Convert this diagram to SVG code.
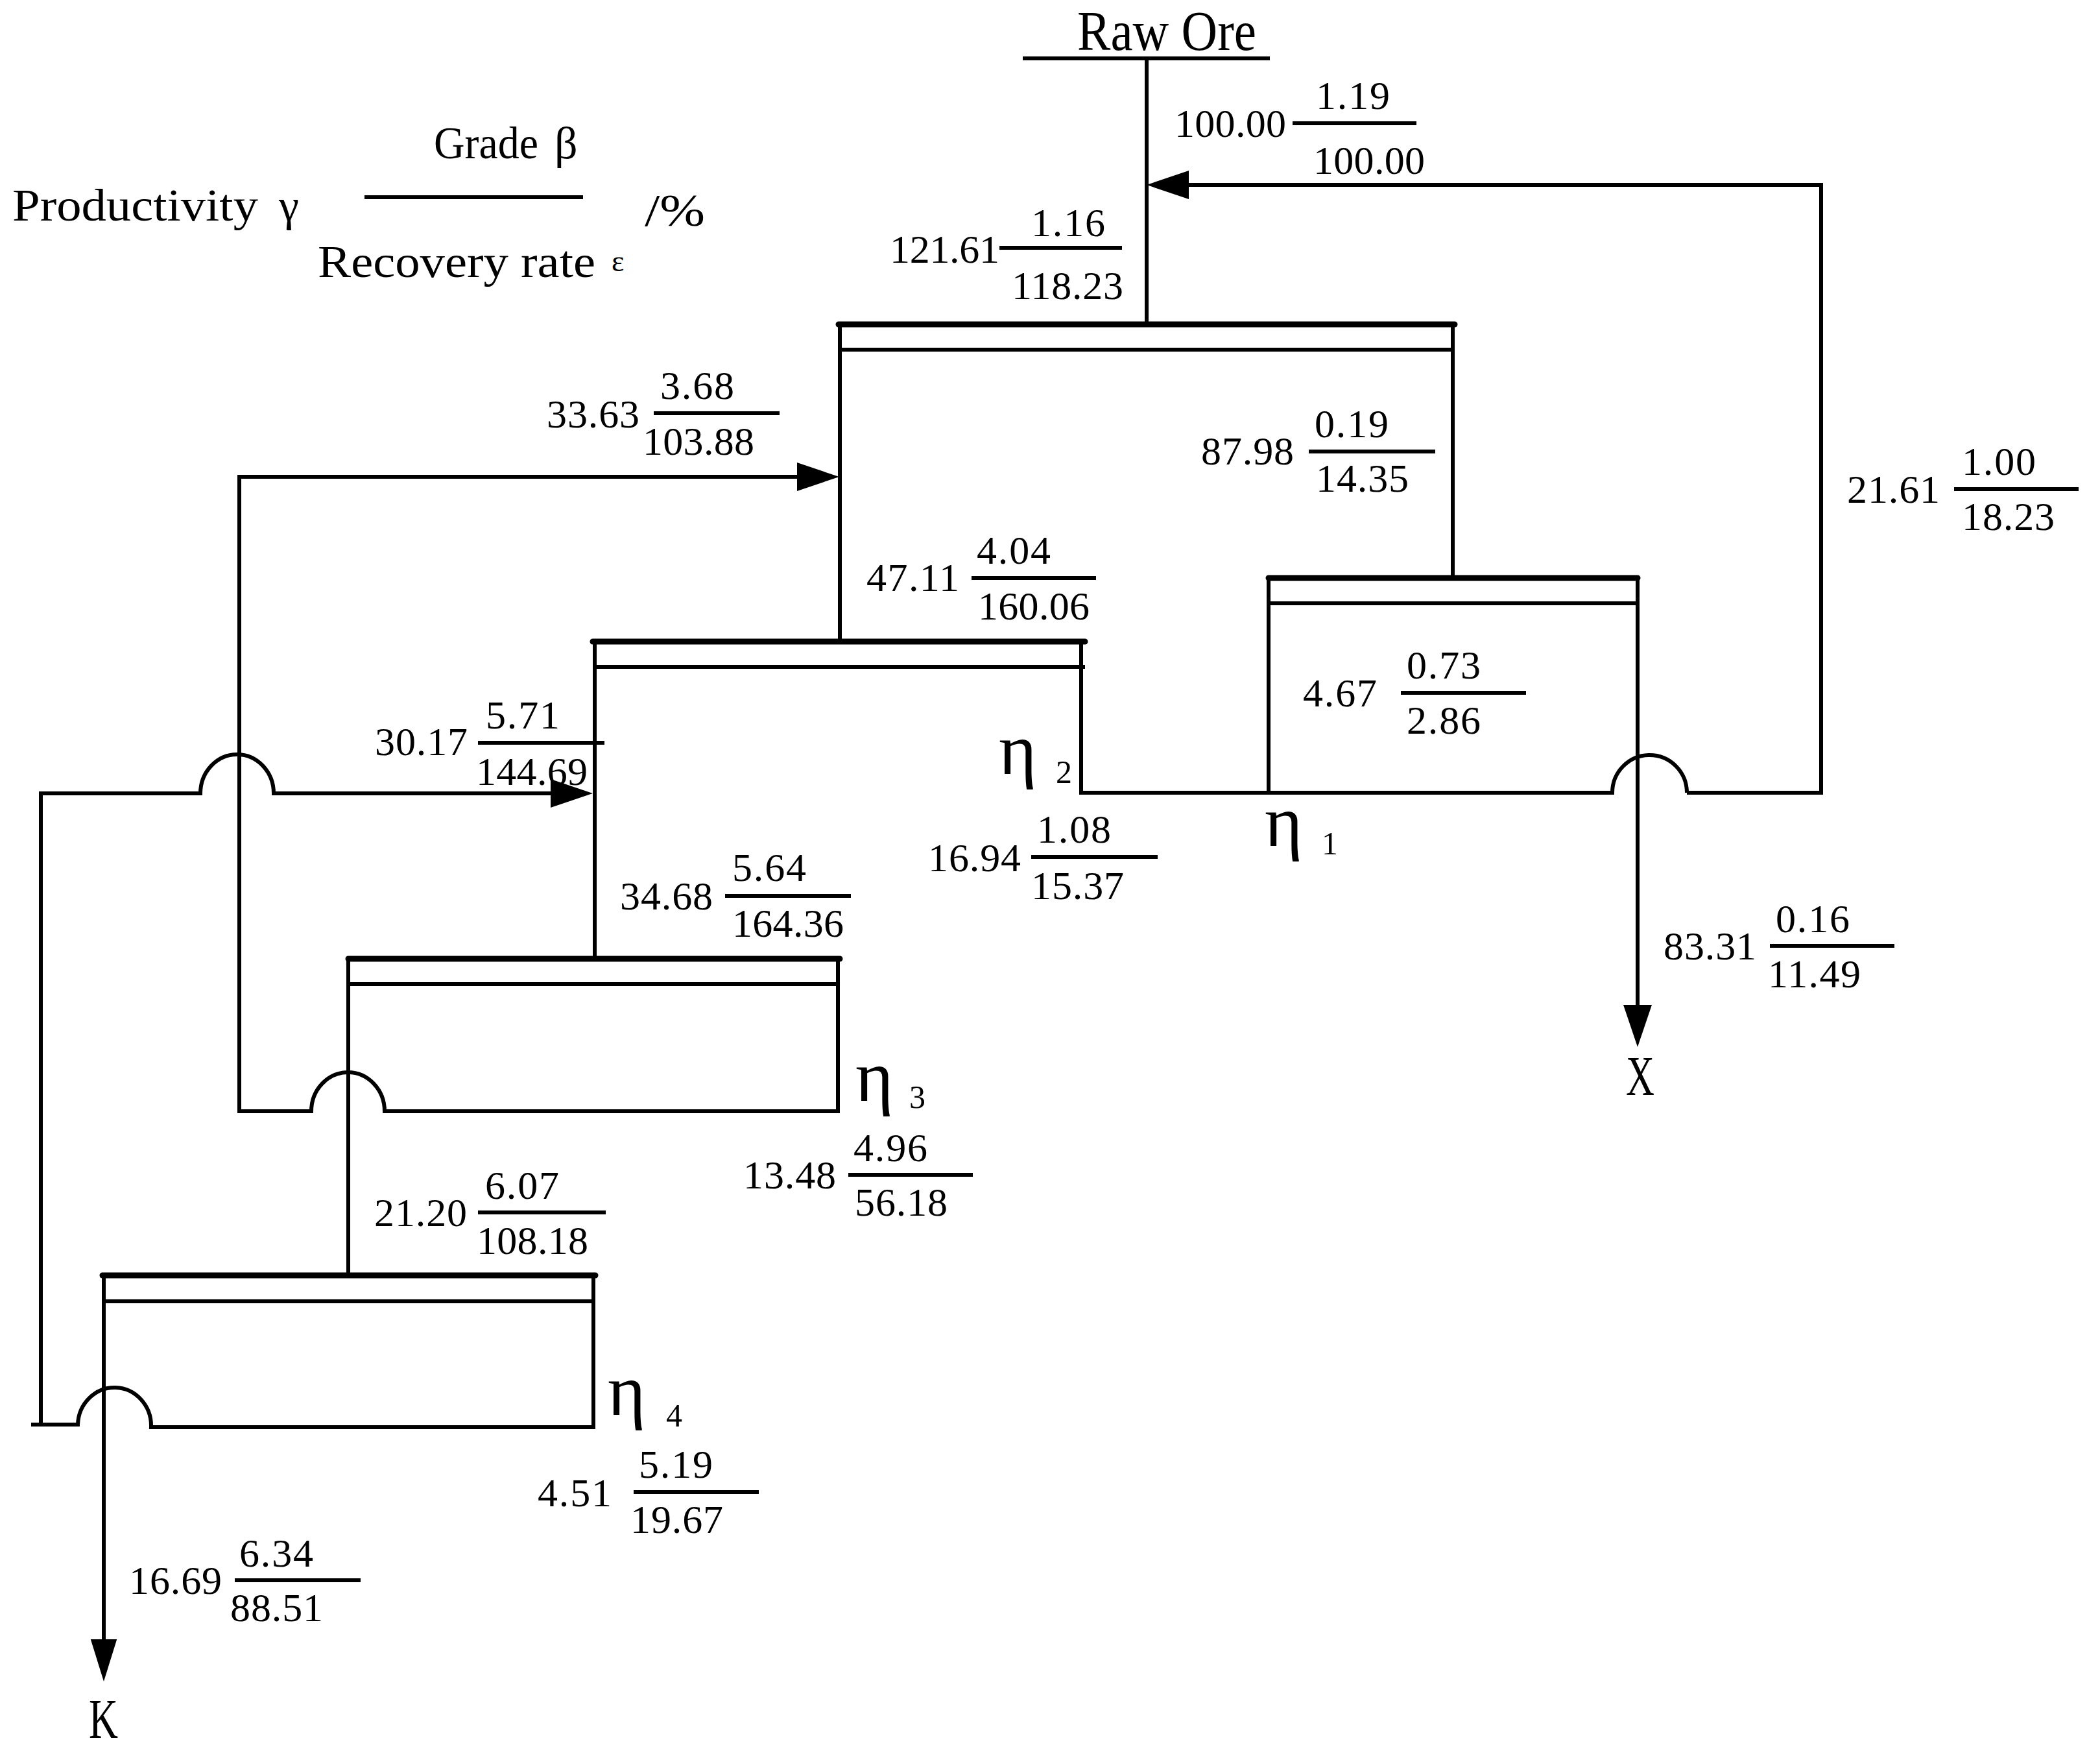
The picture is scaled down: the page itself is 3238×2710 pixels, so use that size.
<svg xmlns="http://www.w3.org/2000/svg" xmlns:xlink="http://www.w3.org/1999/xlink" width="3238" height="2710" viewBox="0 0 3238 2710">
<style>
.ln{stroke:#000;stroke-width:6;fill:none;stroke-linejoin:miter}
.thk{stroke:#000;stroke-width:9;stroke-linecap:round;fill:none}
.sep{stroke:#000;stroke-width:6;fill:none}
.fr{stroke:#000;stroke-width:6}
.num{font-family:"Liberation Serif","DejaVu Serif",serif;font-size:62px;fill:#000}
.lg{font-family:"Liberation Serif","DejaVu Serif",serif;font-size:70px;fill:#000}
.eta{font-family:"Liberation Serif","DejaVu Serif",serif;font-size:112px;fill:#000}
.sub{font-family:"Liberation Serif","DejaVu Serif",serif;font-size:50px;fill:#000}
.big{font-family:"Liberation Serif","DejaVu Serif",serif;font-size:86px;fill:#000}
</style>
<defs>
<path id="ah" d="M0 0 L-65 -22 L-65 22 Z" fill="#000"/>
</defs>
<rect width="3238" height="2710" fill="#fff"/>

<g id="legend">
<text class="lg" x="19" y="340"><tspan textLength="379" lengthAdjust="spacingAndGlyphs">Productivity</tspan><tspan x="430">γ</tspan></text>
<text class="lg" x="669" y="244"><tspan textLength="161" lengthAdjust="spacingAndGlyphs">Grade</tspan><tspan x="855">β</tspan></text>
<line class="fr" x1="562" y1="304" x2="899" y2="304"/>
<text class="lg" x="490" y="427"><tspan textLength="428" lengthAdjust="spacingAndGlyphs">Recovery rate</tspan><tspan x="943" y="418" font-size="46">ε</tspan></text>
<text class="lg" x="994" y="348" font-size="82" textLength="93" lengthAdjust="spacingAndGlyphs">/%</text>
</g>

<g id="raw-ore">
<text class="big" x="1661" y="77" textLength="276" lengthAdjust="spacingAndGlyphs">Raw Ore</text>
<line class="ln" x1="1577" y1="90" x2="1958" y2="90"/>
</g>

<g id="cell1">
<line class="thk" x1="1293" y1="500" x2="2243" y2="500"/>
<line class="sep" x1="1295" y1="539" x2="2240" y2="539"/>
</g>
<g id="cell2">
<line class="thk" x1="1956" y1="891" x2="2525" y2="891"/>
<line class="sep" x1="1956" y1="930" x2="2525" y2="930"/>
<text class="eta" x="1950" y="1304">η</text>
<text class="sub" x="2038" y="1317">1</text>
</g>
<g id="cell3">
<line class="thk" x1="914" y1="989" x2="1673" y2="989"/>
<line class="sep" x1="917" y1="1028" x2="1673" y2="1028"/>
<text class="eta" x="1540" y="1193">η</text>
<text class="sub" x="1628" y="1207">2</text>
</g>
<g id="cell4">
<line class="thk" x1="537" y1="1478" x2="1295" y2="1478"/>
<line class="sep" x1="537" y1="1517" x2="1292" y2="1517"/>
<text class="eta" x="1319" y="1697">η</text>
<text class="sub" x="1402" y="1708">3</text>
</g>
<g id="cell5">
<line class="thk" x1="158" y1="1966" x2="918" y2="1966"/>
<line class="sep" x1="160" y1="2006" x2="915" y2="2006"/>
<text class="eta" x="937" y="2181">η</text>
<text class="sub" x="1027" y="2199">4</text>
</g>
<g id="product-x">
<text class="big" x="2507" y="1688" textLength="44" lengthAdjust="spacingAndGlyphs">X</text>
</g>
<g id="product-k">
<text class="big" x="137" y="2679" textLength="45" lengthAdjust="spacingAndGlyphs">K</text>
</g>

<g id="connectors">
<!-- feed -->
<path class="ln" d="M1768 90 V500"/>
<!-- recycle from cell2 bottom to feed -->
<path class="ln" d="M2601 1222 H2808 V285 H1800"/>
<use xlink:href="#ah" href="#ah" transform="translate(1768,285) rotate(180)"/>
<!-- cell1 sides -->
<path class="ln" d="M1295 500 V989"/>
<path class="ln" d="M2240 500 V891"/>
<!-- cell2 -->
<path class="ln" d="M1956 891 V1222"/>
<path class="ln" d="M2525 891 V1560"/>
<use xlink:href="#ah" href="#ah" transform="translate(2525,1614) rotate(90)"/>
<!-- cell3 / cell2 bottom line with bump -->
<path class="ln" d="M1667 989 V1222 H2486 A57.5 58 0 0 1 2601 1222"/>
<path class="ln" d="M917 989 V1478"/>
<!-- cell4 -->
<path class="ln" d="M537 1478 V1966"/>
<path class="ln" d="M1292 1478 V1713 H593 A56.5 60 0 0 0 480 1713 H369 V735 H1240"/>
<use xlink:href="#ah" href="#ah" transform="translate(1294,735)"/>
<!-- cell5 -->
<path class="ln" d="M160 1966 V2540"/>
<use xlink:href="#ah" href="#ah" transform="translate(160,2592) rotate(90) scale(1,0.92)"/>
<path class="ln" d="M915 1966 V2200 H233 A56.5 59 0 0 0 120 2196 H48"/>
<path class="ln" d="M63 2196 V1223 H309 A56.5 60 0 0 1 422 1223 H860"/>
<use xlink:href="#ah" href="#ah" transform="translate(914,1223)"/>
</g>

<g id="labels">
<g id="lb-feed">
<text class="num" x="1811" y="211" textLength="172">100.00</text>
<text class="num" x="2029" y="168" textLength="114">1.19</text>
<line class="fr" x1="1993" y1="190" x2="2184" y2="190"/>
<text class="num" x="2025" y="268" textLength="172">100.00</text>
</g>
<g id="lb-cell1-feed">
<text class="num" x="1372" y="405" textLength="169">121.61</text>
<text class="num" x="1590" y="364" textLength="114">1.16</text>
<line class="fr" x1="1541" y1="382" x2="1730" y2="382"/>
<text class="num" x="1560" y="461" textLength="172">118.23</text>
</g>
<g id="lb-return3">
<text class="num" x="843" y="659" textLength="143">33.63</text>
<text class="num" x="1018" y="615" textLength="114">3.68</text>
<line class="fr" x1="1008" y1="637" x2="1202" y2="637"/>
<text class="num" x="991" y="701" textLength="172">103.88</text>
</g>
<g id="lb-cell1-tail">
<text class="num" x="1852" y="716" textLength="143">87.98</text>
<text class="num" x="2027" y="674" textLength="114">0.19</text>
<line class="fr" x1="2018" y1="696" x2="2213" y2="696"/>
<text class="num" x="2029" y="758" textLength="143">14.35</text>
</g>
<g id="lb-cell1-conc">
<text class="num" x="1336" y="911" textLength="143">47.11</text>
<text class="num" x="1506" y="869" textLength="114">4.04</text>
<line class="fr" x1="1498" y1="891" x2="1690" y2="891"/>
<text class="num" x="1508" y="955" textLength="172">160.06</text>
</g>
<g id="lb-cell2-conc">
<text class="num" x="2009" y="1089" textLength="114">4.67</text>
<text class="num" x="2169" y="1046" textLength="114">0.73</text>
<line class="fr" x1="2160" y1="1068" x2="2353" y2="1068"/>
<text class="num" x="2169" y="1131" textLength="114">2.86</text>
</g>
<g id="lb-return4">
<text class="num" x="578" y="1164" textLength="143">30.17</text>
<text class="num" x="749" y="1123" textLength="114">5.71</text>
<line class="fr" x1="737" y1="1145" x2="932" y2="1145"/>
<text class="num" x="734" y="1210" textLength="172">144.69</text>
</g>
<g id="lb-cell3-tail">
<text class="num" x="1431" y="1343" textLength="143">16.94</text>
<text class="num" x="1599" y="1299" textLength="114">1.08</text>
<line class="fr" x1="1590" y1="1321" x2="1785" y2="1321"/>
<text class="num" x="1590" y="1386" textLength="143">15.37</text>
</g>
<g id="lb-cell3-conc">
<text class="num" x="956" y="1402" textLength="143">34.68</text>
<text class="num" x="1129" y="1358" textLength="114">5.64</text>
<line class="fr" x1="1118" y1="1381" x2="1312" y2="1381"/>
<text class="num" x="1129" y="1444" textLength="172">164.36</text>
</g>
<g id="lb-tailing-x">
<text class="num" x="2565" y="1479" textLength="143">83.31</text>
<text class="num" x="2738" y="1437" textLength="114">0.16</text>
<line class="fr" x1="2729" y1="1458" x2="2921" y2="1458"/>
<text class="num" x="2726" y="1522" textLength="143">11.49</text>
</g>
<g id="lb-recycle">
<text class="num" x="2848" y="775" textLength="143">21.61</text>
<text class="num" x="3025" y="732" textLength="114">1.00</text>
<line class="fr" x1="3013" y1="754" x2="3205" y2="754"/>
<text class="num" x="3025" y="817" textLength="143">18.23</text>
</g>
<g id="lb-cell4-tail">
<text class="num" x="1146" y="1832" textLength="143">13.48</text>
<text class="num" x="1316" y="1790" textLength="114">4.96</text>
<line class="fr" x1="1308" y1="1811" x2="1500" y2="1811"/>
<text class="num" x="1318" y="1874" textLength="143">56.18</text>
</g>
<g id="lb-cell4-conc">
<text class="num" x="577" y="1890" textLength="143">21.20</text>
<text class="num" x="748" y="1848" textLength="114">6.07</text>
<line class="fr" x1="737" y1="1869" x2="934" y2="1869"/>
<text class="num" x="735" y="1933" textLength="172">108.18</text>
</g>
<g id="lb-cell5-tail">
<text class="num" x="829" y="2322" textLength="114">4.51</text>
<text class="num" x="985" y="2278" textLength="114">5.19</text>
<line class="fr" x1="977" y1="2300" x2="1170" y2="2300"/>
<text class="num" x="972" y="2363" textLength="143">19.67</text>
</g>
<g id="lb-conc-k">
<text class="num" x="199" y="2457" textLength="143">16.69</text>
<text class="num" x="369" y="2415" textLength="114">6.34</text>
<line class="fr" x1="362" y1="2436" x2="556" y2="2436"/>
<text class="num" x="355" y="2499" textLength="143">88.51</text>
</g>
</g>
</svg>
